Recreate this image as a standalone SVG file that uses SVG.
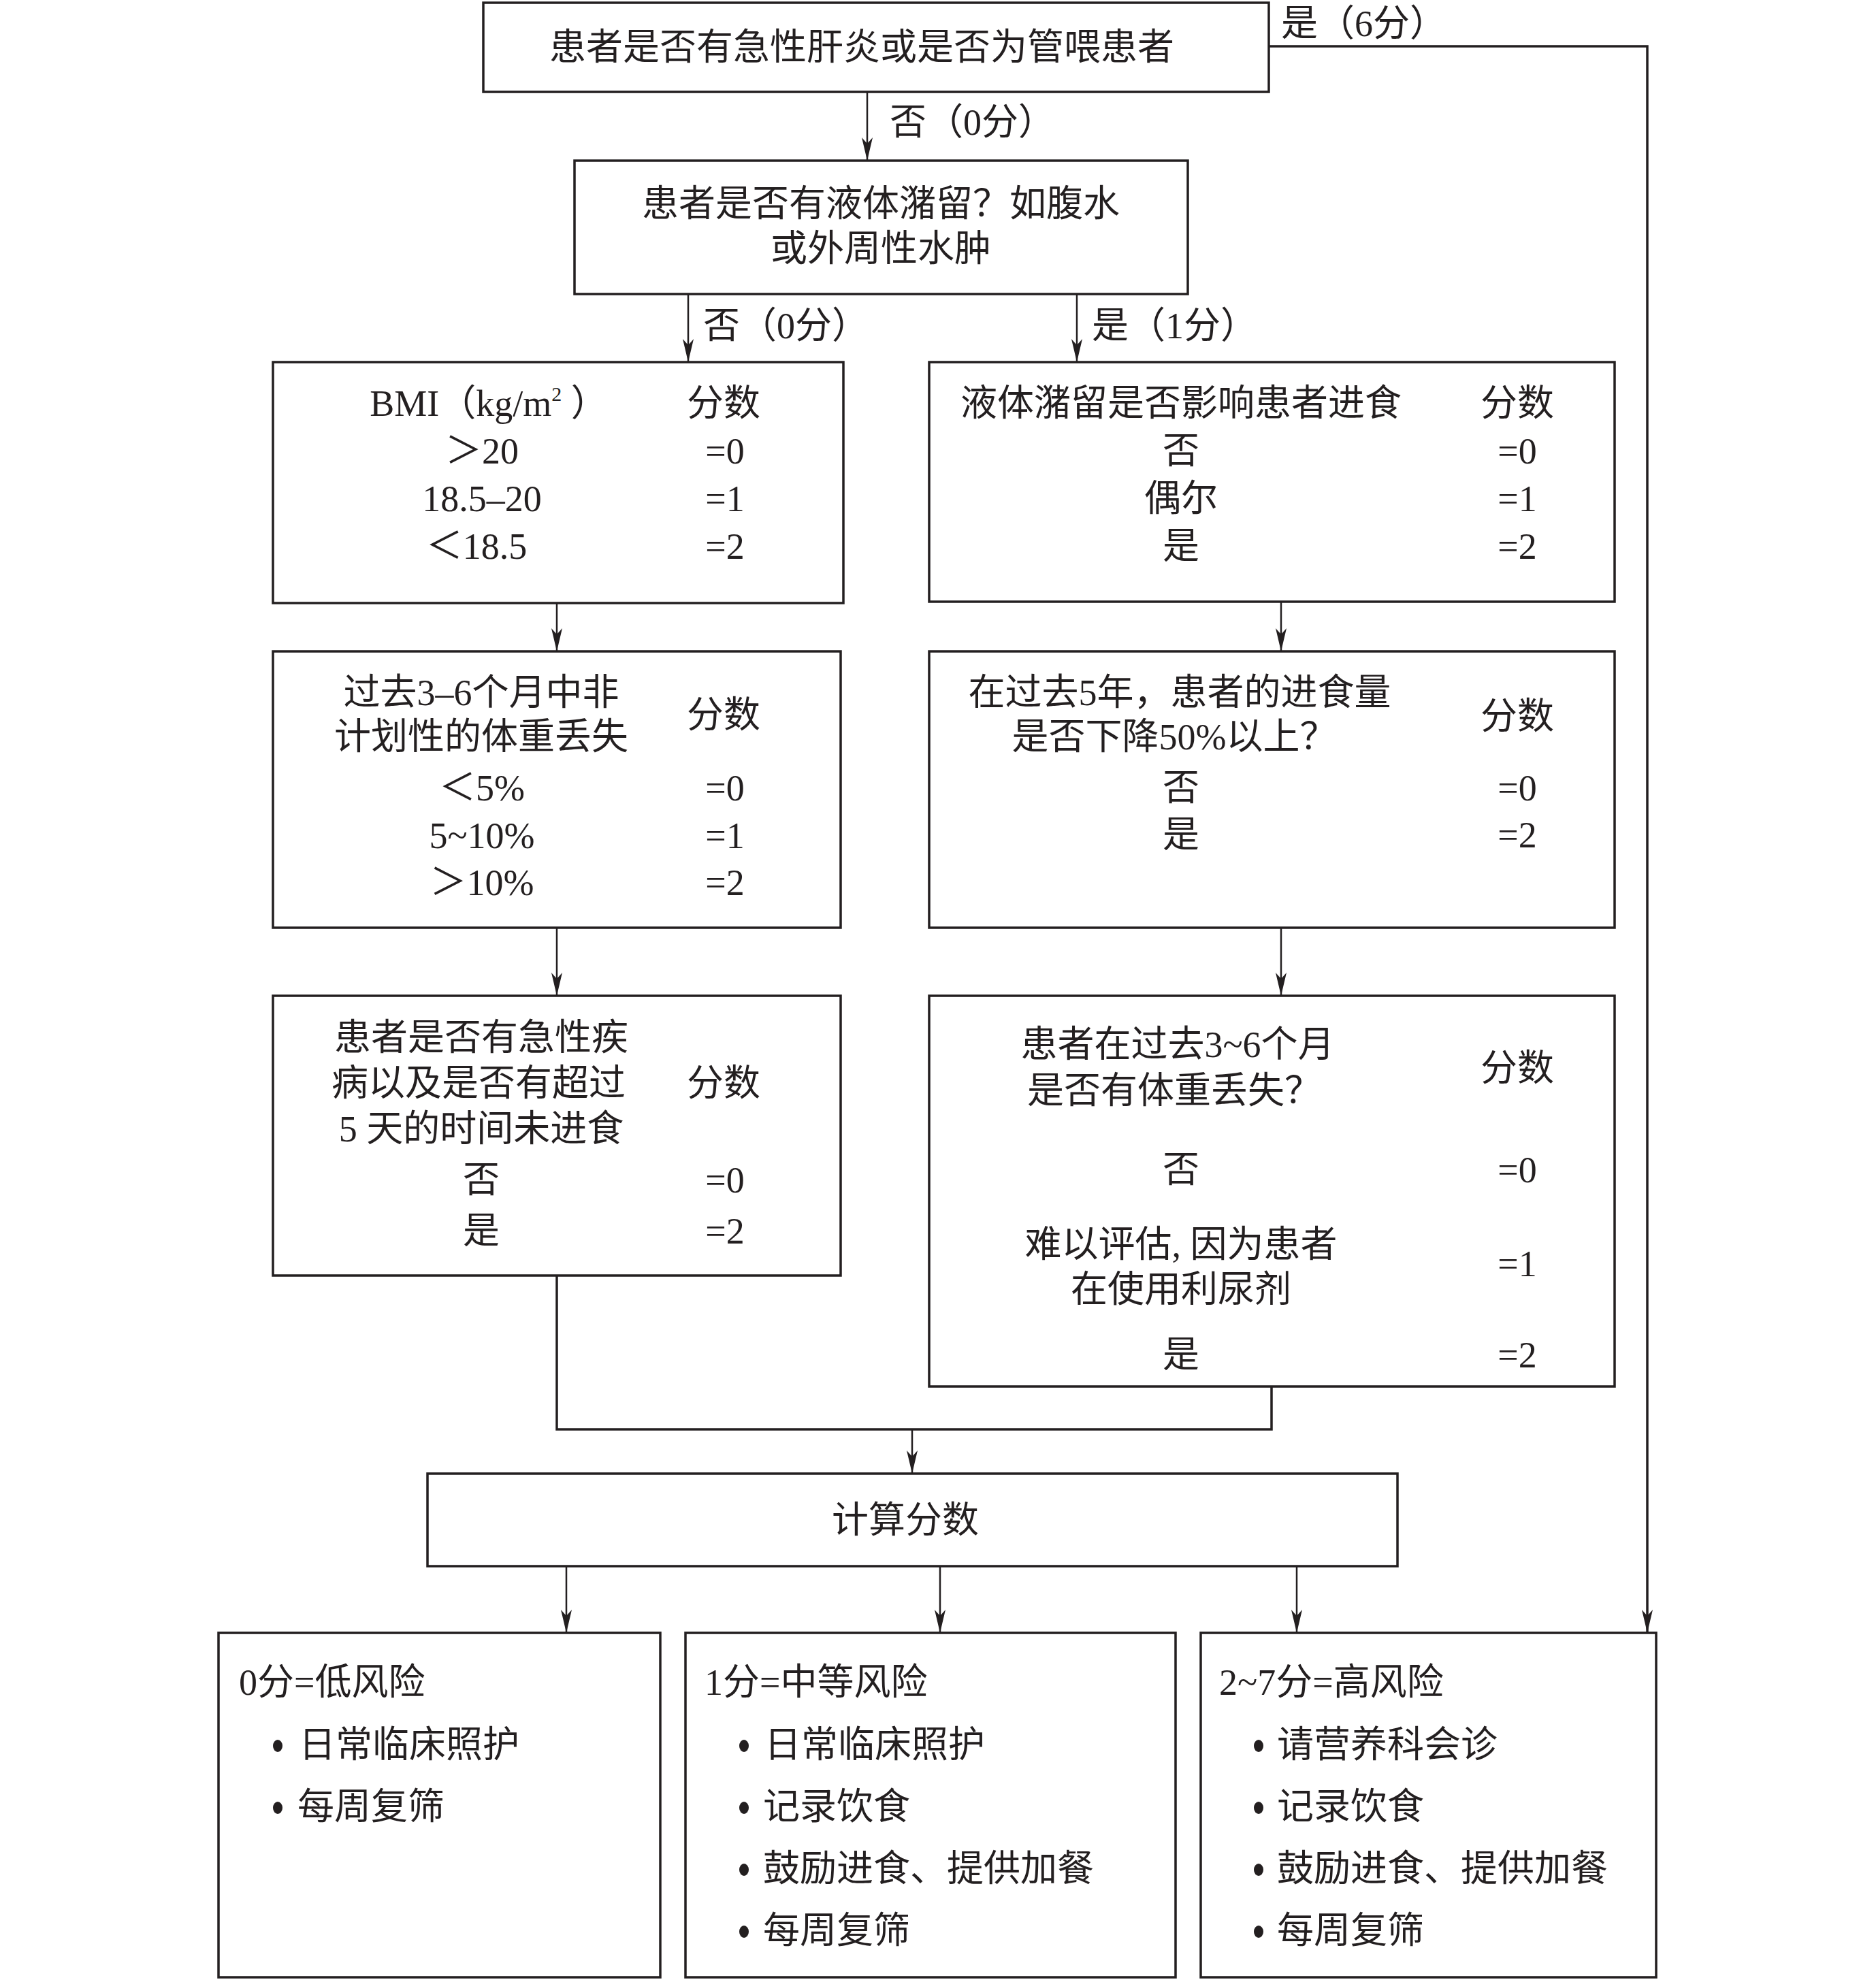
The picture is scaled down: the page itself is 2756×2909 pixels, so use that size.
<svg xmlns="http://www.w3.org/2000/svg" width="2756" height="2909" viewBox="0 0 2756 2909">
<style>
.box{fill:#fff;stroke:#231f20;stroke-width:3.5}
.con{fill:none;stroke:#231f20;stroke-width:2.5}
.thick{stroke-width:3.5}
text{font-family:"Liberation Serif","Noto Sans CJK SC",serif;font-size:54px;fill:#231f20}
.c{text-anchor:middle}
.bul{fill:#231f20}
</style>
<defs>
<marker id="ah" viewBox="0 0 34 16" refX="34" refY="8" markerWidth="34" markerHeight="16" orient="auto" markerUnits="userSpaceOnUse">
<path d="M0,0 L34,8 L0,16 L9,8 Z" fill="#231f20"/>
</marker>
</defs>
<rect width="2756" height="2909" fill="#fff"/>

<g id="connectors">
<line class="con" x1="1274" y1="135" x2="1274" y2="236" marker-end="url(#ah)"/>
<path class="con thick" d="M1864,68 H2420 V2399" marker-end="url(#ah)"/>
<line class="con" x1="1011" y1="432" x2="1011" y2="532" marker-end="url(#ah)"/>
<line class="con" x1="1582" y1="432" x2="1582" y2="532" marker-end="url(#ah)"/>
<line class="con" x1="818" y1="886" x2="818" y2="957" marker-end="url(#ah)"/>
<line class="con" x1="1882" y1="884" x2="1882" y2="957" marker-end="url(#ah)"/>
<line class="con" x1="818" y1="1363" x2="818" y2="1463" marker-end="url(#ah)"/>
<line class="con" x1="1882" y1="1363" x2="1882" y2="1463" marker-end="url(#ah)"/>
<path class="con thick" d="M818,1874 V2100 H1868 V2037"/>
<line class="con" x1="1340" y1="2100" x2="1340" y2="2165" marker-end="url(#ah)"/>
<line class="con" x1="832" y1="2301" x2="832" y2="2399" marker-end="url(#ah)"/>
<line class="con" x1="1381" y1="2301" x2="1381" y2="2399" marker-end="url(#ah)"/>
<line class="con" x1="1905" y1="2301" x2="1905" y2="2399" marker-end="url(#ah)"/>
<text x="1882" y="53">是（6分）</text>
<text x="1307" y="198">否（0分）</text>
<text x="1033" y="497">否（0分）</text>
<text x="1604" y="497">是（1分）</text>
</g>

<g id="n1">
<rect class="box" x="710" y="4" width="1154" height="131"/>
<text class="c" x="1266" y="88">患者是否有急性肝炎或是否为管喂患者</text>
</g>

<g id="n2">
<rect class="box" x="844" y="236" width="901" height="196"/>
<text class="c" x="1294" y="318">患者是否有液体潴留？如腹水</text>
<text class="c" x="1294" y="384">或外周性水肿</text>
</g>

<g id="L1">
<rect class="box" x="401" y="532" width="838" height="354"/>
<text class="c" x="718" y="611">BMI（kg/m<tspan font-size="30" dy="-22">2</tspan><tspan dy="22"> ）</tspan></text>
<text class="c" x="1063" y="611">分数</text>
<text class="c" x="708" y="681">＞20</text>
<text class="c" x="708" y="751">18.5–20</text>
<text class="c" x="700" y="821">＜18.5</text>
<text class="c" x="1065" y="681">=0</text>
<text class="c" x="1065" y="751">=1</text>
<text class="c" x="1065" y="821">=2</text>
</g>

<g id="R1">
<rect class="box" x="1365" y="532" width="1007" height="352"/>
<text class="c" x="1735" y="611">液体潴留是否影响患者进食</text>
<text class="c" x="2229" y="611">分数</text>
<text class="c" x="1735" y="681">否</text>
<text class="c" x="1735" y="751">偶尔</text>
<text class="c" x="1735" y="821">是</text>
<text class="c" x="2229" y="681">=0</text>
<text class="c" x="2229" y="751">=1</text>
<text class="c" x="2229" y="821">=2</text>
</g>

<g id="L2">
<rect class="box" x="401" y="957" width="834" height="406"/>
<text class="c" x="707" y="1036">过去3–6个月中非</text>
<text class="c" x="707" y="1101">计划性的体重丢失</text>
<text class="c" x="1063" y="1069">分数</text>
<text class="c" x="708" y="1176">＜5%</text>
<text class="c" x="708" y="1246">5~10%</text>
<text class="c" x="708" y="1315">＞10%</text>
<text class="c" x="1065" y="1176">=0</text>
<text class="c" x="1065" y="1246">=1</text>
<text class="c" x="1065" y="1315">=2</text>
</g>

<g id="R2">
<rect class="box" x="1365" y="957" width="1007" height="406"/>
<text class="c" x="1733" y="1036">在过去5年，患者的进食量</text>
<text class="c" x="1725" y="1101">是否下降50%以上？</text>
<text class="c" x="2229" y="1071">分数</text>
<text class="c" x="1735" y="1176">否</text>
<text class="c" x="1735" y="1245">是</text>
<text class="c" x="2229" y="1176">=0</text>
<text class="c" x="2229" y="1245">=2</text>
</g>

<g id="L3">
<rect class="box" x="401" y="1463" width="834" height="411"/>
<text class="c" x="707" y="1543">患者是否有急性疾</text>
<text class="c" x="703" y="1610">病以及是否有超过</text>
<text class="c" x="707" y="1677">5 天的时间未进食</text>
<text class="c" x="1063" y="1610">分数</text>
<text class="c" x="707" y="1752">否</text>
<text class="c" x="707" y="1827">是</text>
<text class="c" x="1065" y="1752">=0</text>
<text class="c" x="1065" y="1827">=2</text>
</g>

<g id="R3">
<rect class="box" x="1365" y="1463" width="1007" height="574"/>
<text class="c" x="1730" y="1553">患者在过去3~6个月</text>
<text class="c" x="1725" y="1621">是否有体重丢失？</text>
<text class="c" x="2229" y="1588">分数</text>
<text class="c" x="1735" y="1737">否</text>
<text class="c" x="1735" y="1847">难以评估, 因为患者</text>
<text class="c" x="1735" y="1913">在使用利尿剂</text>
<text class="c" x="1735" y="2009">是</text>
<text class="c" x="2229" y="1737">=0</text>
<text class="c" x="2229" y="1875">=1</text>
<text class="c" x="2229" y="2009">=2</text>
</g>

<g id="calc">
<rect class="box" x="628" y="2165" width="1425" height="136"/>
<text class="c" x="1330" y="2252">计算分数</text>
</g>

<g id="B1">
<rect class="box" x="321" y="2399" width="649" height="506"/>
<text x="351" y="2490">0分=低风险</text>
<ellipse class="bul" cx="408" cy="2565" rx="7" ry="9"/>
<text x="439" y="2582">日常临床照护</text>
<ellipse class="bul" cx="408" cy="2656" rx="7" ry="9"/>
<text x="437" y="2673">每周复筛</text>
</g>

<g id="B2">
<rect class="box" x="1007" y="2399" width="720" height="506"/>
<text x="1035" y="2490">1分=中等风险</text>
<ellipse class="bul" cx="1093" cy="2565" rx="7" ry="9"/>
<text x="1123" y="2582">日常临床照护</text>
<ellipse class="bul" cx="1093" cy="2656" rx="7" ry="9"/>
<text x="1121" y="2673">记录饮食</text>
<ellipse class="bul" cx="1093" cy="2747" rx="7" ry="9"/>
<text x="1121" y="2764">鼓励进食、提供加餐</text>
<ellipse class="bul" cx="1093" cy="2838" rx="7" ry="9"/>
<text x="1121" y="2855">每周复筛</text>
</g>

<g id="B3">
<rect class="box" x="1764" y="2399" width="669" height="506"/>
<text x="1791" y="2490">2~7分=高风险</text>
<ellipse class="bul" cx="1849" cy="2565" rx="7" ry="9"/>
<text x="1876" y="2582">请营养科会诊</text>
<ellipse class="bul" cx="1849" cy="2656" rx="7" ry="9"/>
<text x="1876" y="2673">记录饮食</text>
<ellipse class="bul" cx="1849" cy="2747" rx="7" ry="9"/>
<text x="1876" y="2764">鼓励进食、提供加餐</text>
<ellipse class="bul" cx="1849" cy="2838" rx="7" ry="9"/>
<text x="1876" y="2855">每周复筛</text>
</g>
</svg>
